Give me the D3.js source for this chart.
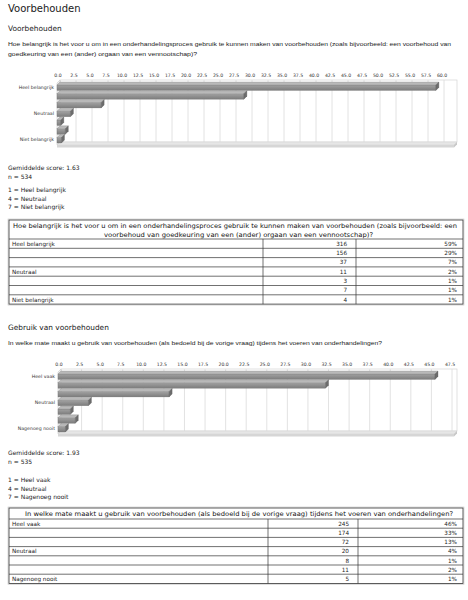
<!DOCTYPE html>
<html><head><meta charset="utf-8">
<script src="https://cdn.jsdelivr.net/npm/d3@7"></script>
<style>body{margin:0;background:#fff}svg{display:block}</style>
</head><body>
<script>
// ---------- DATA ----------
const q1Categories = ["Heel belangrijk", "", "", "Neutraal", "", "", "Niet belangrijk"];
const q1Counts = [316, 156, 37, 11, 3, 7, 4];
const q1Values = [59.2, 29.2, 6.9, 2.1, 0.6, 1.3, 0.7];
const q1PctLabels = ["59%", "29%", "7%", "2%", "1%", "1%", "1%"];
const q1Ticks = [0, 2.5, 5, 7.5, 10, 12.5, 15, 17.5, 20, 22.5, 25, 27.5, 30, 32.5, 35, 37.5, 40, 42.5, 45, 47.5, 50, 52.5, 55, 57.5, 60];

const q2Categories = ["Heel vaak", "", "", "Neutraal", "", "", "Nagenoeg nooit"];
const q2Counts = [245, 174, 72, 20, 8, 11, 5];
const q2Values = [45.8, 32.5, 13.5, 3.7, 1.5, 2.1, 0.9];
const q2PctLabels = ["46%", "33%", "13%", "4%", "1%", "2%", "1%"];
const q2Ticks = [0, 2.5, 5, 7.5, 10, 12.5, 15, 17.5, 20, 22.5, 25, 27.5, 30, 32.5, 35, 37.5, 40, 42.5, 45, 47.5];

const pageTitle = "Voorbehouden";
const q1Section = "Voorbehouden";
const q1Question = ["Hoe belangrijk is het voor u om in een onderhandelingsproces gebruik te kunnen maken van voorbehouden (zoals bijvoorbeeld: een voorbehoud van",
                    "goedkeuring van een (ander) orgaan van een vennootschap)?"];
const q1Stats = ["Gemiddelde score: 1.63", "n = 534"];
const q1Legend = ["1 = Heel belangrijk", "4 = Neutraal", "7 = Niet belangrijk"];
const q1TableHeader = ["Hoe belangrijk is het voor u om in een onderhandelingsproces gebruik te kunnen maken van voorbehouden (zoals bijvoorbeeld: een",
                       "voorbehoud van goedkeuring van een (ander) orgaan van een vennootschap)?"];

const q2Section = "Gebruik van voorbehouden";
const q2Question = ["In welke mate maakt u gebruik van voorbehouden (als bedoeld bij de vorige vraag) tijdens het voeren van onderhandelingen?"];
const q2Stats = ["Gemiddelde score: 1.93", "n = 535"];
const q2Legend = ["1 = Heel vaak", "4 = Neutraal", "7 = Nagenoeg nooit"];
const q2TableHeader = ["In welke mate maakt u gebruik van voorbehouden (als bedoeld bij de vorige vraag) tijdens het voeren van onderhandelingen?"];

// ---------- DRAW ----------
const W = 468, H = 600;
const svg = d3.select("body").append("svg").attr("width", W).attr("height", H)
  .style("font-family", "'DejaVu Sans', Verdana, sans-serif");
svg.append("rect").attr("width", W).attr("height", H).attr("fill", "#fff");

const defs = svg.append("defs");
const grad = defs.append("linearGradient").attr("id", "barFront").attr("x1", 0).attr("y1", 0).attr("x2", 0).attr("y2", 1);
grad.append("stop").attr("offset", "0%").attr("stop-color", "#a2a2a2");
grad.append("stop").attr("offset", "100%").attr("stop-color", "#7c7c7c");

function text(x, y, s, size, opts = {}) {
  const t = svg.append("text").attr("x", x).attr("y", y).text(s)
    .attr("font-size", size).attr("fill", opts.fill || "#1a1a1a");
  if (opts.family) t.attr("font-family", opts.family);
  if (opts.anchor) t.attr("text-anchor", opts.anchor);
  if (opts.len) t.attr("textLength", opts.len).attr("lengthAdjust", "spacingAndGlyphs");
  if (opts.weight) t.attr("font-weight", opts.weight);
  return t;
}

function barChart(o) {
  const g = svg.append("g");
  const d = 3;
  const x = d3.scaleLinear().domain([0, o.ticks[o.ticks.length - 1]]).range([o.x0, o.x1]);
  const y = d3.scaleBand().domain(o.cats.map((c, i) => i)).range([o.top + 2, o.floor - 2]).paddingInner(0.04);

  // back wall
  g.append("rect").attr("x", o.x0 + d).attr("y", o.top).attr("width", o.right - o.x0 - d)
    .attr("height", o.floor - o.top - d).attr("fill", "#fff").attr("stroke", "#d4d4d4").attr("stroke-width", 0.7);
  // gridlines
  g.selectAll(".grid").data(o.ticks).join("line")
    .attr("x1", t => x(t) + d).attr("x2", t => x(t) + d)
    .attr("y1", o.top).attr("y2", o.floor - d)
    .attr("stroke", "#dadada").attr("stroke-width", 0.8);
  g.selectAll(".gridf").data(o.ticks).join("line")
    .attr("x1", t => x(t) + d).attr("x2", t => x(t))
    .attr("y1", o.floor - d).attr("y2", o.floor)
    .attr("stroke", "#dadada").attr("stroke-width", 0.6);
  // left wall
  g.append("polygon")
    .attr("points", [[o.x0, o.top + d], [o.x0 + d, o.top], [o.x0 + d, o.floor - d], [o.x0, o.floor]].join(" "))
    .attr("fill", "#eeeeee").attr("stroke", "#cfcfcf").attr("stroke-width", 0.6);
  // floor
  g.append("polygon")
    .attr("points", [[o.x0, o.floor], [o.x0 + d, o.floor - d], [o.right, o.floor - d], [o.right - d, o.floor]].join(" "))
    .attr("fill", "#e6e6e6").attr("stroke", "#d0d0d0").attr("stroke-width", 0.5);
  g.append("rect").attr("x", o.x0).attr("y", o.floor).attr("width", o.right - d - o.x0).attr("height", 2.5)
    .attr("fill", "#d6d6d6");
  g.append("polygon")
    .attr("points", [[o.right - d, o.floor], [o.right, o.floor - d], [o.right, o.floor - d + 2.5], [o.right - d, o.floor + 2.5]].join(" "))
    .attr("fill", "#c8c8c8");

  // tick labels
  g.selectAll(".tl").data(o.ticks).join("text")
    .attr("x", t => x(t) + 1).attr("y", o.tickY)
    .attr("text-anchor", "middle").attr("font-size", 4.6).attr("fill", "#333")
    .text(t => d3.format(".1f")(t));

  // bars
  const bw = y.bandwidth();
  const bars = g.selectAll(".bar").data(o.values).join("g");
  bars.append("rect")
    .attr("x", x(0)).attr("y", (v, i) => y(i) + d)
    .attr("width", v => x(v) - x(0)).attr("height", bw - d)
    .attr("fill", "url(#barFront)").attr("stroke", "#6a6a6a").attr("stroke-width", 0.3);
  bars.append("polygon")
    .attr("points", (v, i) => [[x(0), y(i) + d], [x(0) + d, y(i)], [x(v) + d, y(i)], [x(v), y(i) + d]].join(" "))
    .attr("fill", "#b9b9b9").attr("stroke", "#7a7a7a").attr("stroke-width", 0.3);
  bars.append("polygon")
    .attr("points", (v, i) => [[x(v), y(i) + d], [x(v) + d, y(i)], [x(v) + d, y(i) + bw - d], [x(v), y(i) + bw]].join(" "))
    .attr("fill", "#6c6c6c").attr("stroke", "#5a5a5a").attr("stroke-width", 0.3);

  // category labels
  g.selectAll(".cl").data(o.cats).join("text")
    .attr("x", o.x0 - 3).attr("y", (c, i) => y(i) + bw / 2 + 2.6)
    .attr("text-anchor", "end").attr("font-size", 4.7).attr("fill", "#333")
    .text(c => c);
}

function table(o) {
  const g = svg.append("g");
  const rowsTop = o.top + o.headH;
  const bottom = rowsTop + o.rowH * o.cats.length;
  g.append("rect").attr("x", o.left - 1).attr("y", o.top - 1).attr("width", o.right - o.left + 2).attr("height", bottom - o.top + 2)
    .attr("fill", "none").attr("stroke", "#c8c8c8").attr("stroke-width", 0.6);
  g.append("rect").attr("x", o.left).attr("y", o.top).attr("width", o.right - o.left).attr("height", bottom - o.top)
    .attr("fill", "#fff").attr("stroke", "#333").attr("stroke-width", 0.8);
  o.header.forEach((s, i) => {
    text(o.headX[i], o.top + o.headY[i], s, 6.4, { len: o.headLen[i], fill: "#111" });
  });
  o.cats.forEach((c, i) => {
    const y0 = rowsTop + i * o.rowH;
    g.append("line").attr("x1", o.left).attr("x2", o.right).attr("y1", y0).attr("y2", y0)
      .attr("stroke", "#333").attr("stroke-width", 0.7);
    g.append("line").attr("x1", o.c1).attr("x2", o.c1).attr("y1", y0).attr("y2", y0 + o.rowH)
      .attr("stroke", "#333").attr("stroke-width", 0.7);
    g.append("line").attr("x1", o.c2).attr("x2", o.c2).attr("y1", y0).attr("y2", y0 + o.rowH)
      .attr("stroke", "#333").attr("stroke-width", 0.7);
    const ty = y0 + o.rowH / 2 + 2.1;
    if (c) text(o.left + 3, ty, c, 5.7);
    text(o.c2 - 9, ty, o.counts[i], 5.7, { anchor: "end" });
    text(o.right - 6, ty, o.pcts[i], 5.7, { anchor: "end" });
  });
}

// ----- Section 1 -----
text(8, 12, pageTitle, 10);
text(8, 31, q1Section, 7.4);
text(8, 46, q1Question[0], 6.2, { family: "'Liberation Sans', Arial, sans-serif", len: 443 });
text(8, 56, q1Question[1], 6.2, { family: "'Liberation Sans', Arial, sans-serif", len: 189 });

barChart({ cats: q1Categories, values: q1Values, ticks: q1Ticks,
  x0: 57, x1: 441, right: 457, top: 80, floor: 145, tickY: 77 });

q1Stats.forEach((s, i) => text(8, 170 + i * 8.5, s, 6));
q1Legend.forEach((s, i) => text(8, 192 + i * 8.5, s, 6));

table({ top: 220, headH: 19, rowH: 9.3, left: 9, right: 463, c1: 263, c2: 356,
  header: q1TableHeader, headX: [13, 104], headY: [8, 16.5], headLen: [444, 269],
  cats: q1Categories, counts: q1Counts, pcts: q1PctLabels });

// ----- Section 2 -----
text(8, 330, q2Section, 7.4);
text(8, 345, q2Question[0], 6.2, { family: "'Liberation Sans', Arial, sans-serif", len: 374 });

barChart({ cats: q2Categories, values: q2Values, ticks: q2Ticks,
  x0: 58, x1: 449, right: 457, top: 369, floor: 434, tickY: 366 });

q2Stats.forEach((s, i) => text(8, 455 + i * 8.5, s, 6));
q2Legend.forEach((s, i) => text(8, 482 + i * 8.5, s, 6));

table({ top: 508, headH: 11, rowH: 9.2, left: 9, right: 463, c1: 268, c2: 358,
  header: q2TableHeader, headX: [25], headY: [8], headLen: [428],
  cats: q2Categories, counts: q2Counts, pcts: q2PctLabels });
</script>
</body></html>
